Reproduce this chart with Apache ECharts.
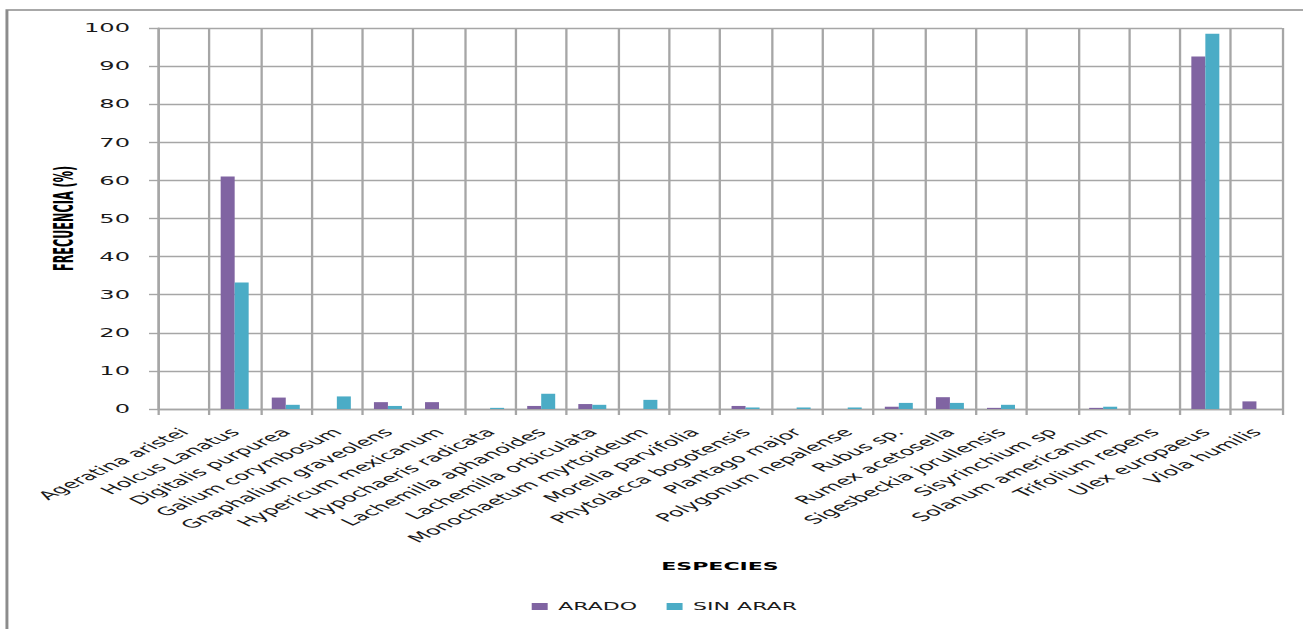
<!DOCTYPE html>
<html>
<head>
<meta charset="utf-8">
<script src="https://cdn.jsdelivr.net/npm/echarts@6/dist/echarts.min.js"></script>
<style>
  html, body { margin: 0; padding: 0; background: #ffffff; overflow: hidden; }
  #wrap { width: 1303px; height: 629px; overflow: hidden; }
  /* the chart is laid out on a narrower canvas and widened horizontally */
  #chart { width: 620px; height: 629px; transform: scaleX(2.1016); transform-origin: 0 0; }
</style>
</head>
<body>
<div id="wrap"><div id="chart"></div></div>
<script>
// Species sampled and their frequency (%) in ploughed and unploughed plots
const species = [
  'Ageratina aristei', 'Holcus Lanatus', 'Digitalis purpurea', 'Galium corymbosum',
  'Gnaphalium graveolens', 'Hypericum mexicanum', 'Hypochaeris radicata',
  'Lachemilla aphanoides', 'Lachemilla orbiculata', 'Monochaetum myrtoideum',
  'Morella parvifolia', 'Phytolacca bogotensis', 'Plantago major',
  'Polygonum nepalense', 'Rubus sp.', 'Rumex acetosella', 'Sigesbeckia jorullensis',
  'Sisyrinchium sp', 'Solanum americanum', 'Trifolium repens', 'Ulex europaeus',
  'Viola humilis'
];
const arado = [0, 61.0, 3.0, 0, 1.8, 1.8, 0, 0.8, 1.3, 0, 0, 0.8, 0, 0, 0.6, 3.1, 0.3, 0, 0.3, 0, 92.5, 2.0];
const sinArar = [0, 33.2, 1.1, 3.3, 0.8, 0, 0.3, 4.0, 1.1, 2.4, 0, 0.4, 0.4, 0.4, 1.6, 1.6, 1.1, 0, 0.6, 0, 98.5, 0];
const yTicks = { min: 0, max: 100, interval: 10 };

const gridColor = '#a6a6a6';
const textColor = '#1a1a1a';
const textFont = 'DejaVu Sans';
const narrowFont = "'DejaVu Sans Condensed', 'DejaVu Sans', sans-serif";

const chart = echarts.init(document.getElementById('chart'), null, { renderer: 'svg' });
chart.setOption({
  animation: false,
  backgroundColor: '#ffffff',
  graphic: [{
    type: 'rect',
    shape: { x: 3.3, y: 10, width: 700, height: 640 },
    style: { fill: 'none', stroke: '#8c8c8c', lineWidth: 1.4 },
    silent: true
  }],
  grid: { left: 75.2, top: 28, right: 10, bottom: 220 },
  legend: {
    left: 253,
    top: 601,
    padding: 0,
    itemWidth: 7.6,
    itemHeight: 7,
    itemGap: 14,
    icon: 'rect',
    textStyle: { fontFamily: textFont, fontSize: 10.5, color: textColor },
    data: ['ARADO', 'SIN ARAR']
  },
  xAxis: {
    type: 'category',
    data: species,
    name: 'ESPECIES',
    nameLocation: 'middle',
    nameGap: 152,
    nameMoveOverlap: false,
    nameTextStyle: { fontFamily: textFont, fontSize: 10.5, fontWeight: 'bold', color: '#000' },
    axisLine: { lineStyle: { color: gridColor, width: 1.4 } },
    axisTick: { show: true, length: 6, lineStyle: { color: gridColor, width: 1.1 } },
    splitLine: { show: true, interval: 0, lineStyle: { color: gridColor, width: 1.1 } },
    axisLabel: {
      interval: 0,
      rotate: 45,
      margin: 21,
      fontFamily: textFont,
      fontSize: 11.5,
      color: textColor
    }
  },
  yAxis: {
    type: 'value',
    min: yTicks.min,
    max: yTicks.max,
    interval: yTicks.interval,
    name: 'FRECUENCIA (%)',
    nameLocation: 'middle',
    nameGap: 38,
    nameMoveOverlap: false,
    nameRotate: 90,
    nameTextStyle: { fontFamily: narrowFont, fontSize: 12.5, fontWeight: 'bold', color: '#000' },
    axisLine: { show: true, lineStyle: { color: gridColor, width: 1.1 } },
    axisTick: { show: true, length: 4.3, lineStyle: { color: gridColor, width: 1.4 } },
    splitLine: { show: true, lineStyle: { color: gridColor, width: 1.4 } },
    axisLabel: { margin: 13.3, fontFamily: textFont, fontSize: 11.5, color: textColor }
  },
  series: [
    {
      name: 'ARADO',
      type: 'bar',
      data: arado,
      barWidth: 6.66,
      barGap: '0%',
      itemStyle: { color: '#8064A2' }
    },
    {
      name: 'SIN ARAR',
      type: 'bar',
      data: sinArar,
      barWidth: 6.66,
      barGap: '0%',
      itemStyle: { color: '#4BACC6' }
    }
  ]
});
</script>
</body>
</html>
